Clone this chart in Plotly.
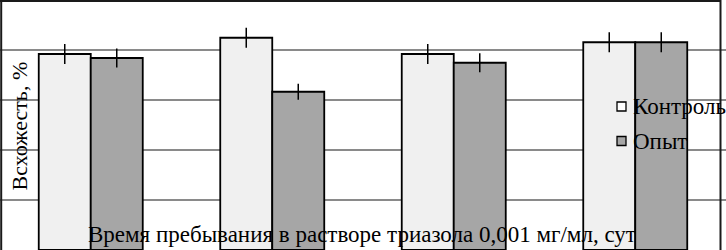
import plotly.graph_objects as go

categories = ["1", "2", "3", "4"]
control_values = [78.4, 84.9, 78.4, 83.1]
control_errors = [4.0, 4.0, 4.0, 4.0]
opyt_values = [76.8, 63.3, 74.9, 83.1]
opyt_errors = [3.8, 3.2, 3.8, 4.0]
series_names = ["Контроль", "Опыт"]
x_title = "Время пребывания в растворе триазола 0,001 мг/мл, сут"
y_title = "Всхожесть, %"

W, H = 726, 250
FONT = "Liberation Serif"
C_CTRL = "#f0f0f0"
C_OPYT = "#a6a6a6"

fig = go.Figure()
fig.add_trace(go.Bar(
    x=categories, y=control_values, name=series_names[0],
    marker=dict(color=C_CTRL, line=dict(color="#000000", width=1.8)),
    error_y=dict(type="data", array=control_errors, color="#000000", thickness=1.5, width=0),
))
fig.add_trace(go.Bar(
    x=categories, y=opyt_values, name=series_names[1],
    marker=dict(color=C_OPYT, line=dict(color="#000000", width=1.8)),
    error_y=dict(type="data", array=opyt_errors, color="#000000", thickness=1.5, width=0),
))

shapes = []
ln = dict(color="#1a1a1a", width=2)
shapes.append(dict(type="line", xref="paper", yref="paper", x0=0, x1=720.5 / W, y0=1 - 1 / H, y1=1 - 1 / H, line=ln))
shapes.append(dict(type="line", xref="paper", yref="paper", x0=1.2 / W, x1=1.2 / W, y0=-0.05, y1=1, line=ln))
shapes.append(dict(type="line", xref="paper", yref="paper", x0=720.5 / W, x1=720.5 / W, y0=-0.05, y1=1, line=ln))

def px_rect(x0, y0, x1, y1, fill):
    return dict(type="rect", xref="paper", yref="paper",
                x0=x0 / W, x1=x1 / W, y0=1 - y1 / H, y1=1 - y0 / H,
                fillcolor=fill, line=dict(color="#000000", width=1.3))

shapes.append(px_rect(617, 102, 626, 111, "#ffffff"))
shapes.append(px_rect(617, 136.5, 626, 145.5, C_OPYT))

annotations = [
    dict(text=x_title, xref="paper", yref="paper", x=362 / W, y=1 - 234 / H,
         xanchor="center", yanchor="middle", showarrow=False,
         font=dict(family=FONT, size=23, color="#000000")),
    dict(text=y_title, xref="paper", yref="paper", x=19 / W, y=1 - 126.5 / H,
         xanchor="center", yanchor="middle", showarrow=False, textangle=-90,
         font=dict(family=FONT, size=22, color="#000000")),
    dict(text=series_names[0], xref="paper", yref="paper", x=631 / W, y=1 - 106.5 / H,
         xanchor="left", yanchor="middle", showarrow=False,
         font=dict(family=FONT, size=23, color="#000000")),
    dict(text=series_names[1], xref="paper", yref="paper", x=631 / W, y=1 - 141 / H,
         xanchor="left", yanchor="middle", showarrow=False,
         font=dict(family=FONT, size=23, color="#000000")),
]

fig.update_layout(
    width=W, height=H,
    margin=dict(l=0, r=0, t=0, b=0),
    paper_bgcolor="#ffffff", plot_bgcolor="#ffffff",
    barmode="group", bargap=0.427, bargroupgap=0,
    showlegend=False,
    shapes=shapes, annotations=annotations,
    xaxis=dict(range=[-0.5, 3.5], showticklabels=False, showgrid=False, zeroline=False, showline=False, ticks=""),
    yaxis=dict(range=[0, 100], dtick=20, showticklabels=False, showgrid=True,
               gridcolor="#8a8a8a", gridwidth=1.8, zeroline=False, showline=False, ticks=""),
)

fig.write_html("out.html", config={"displayModeBar": False},
               post_script="document.body.style.margin='0';document.body.style.overflow='hidden';")
